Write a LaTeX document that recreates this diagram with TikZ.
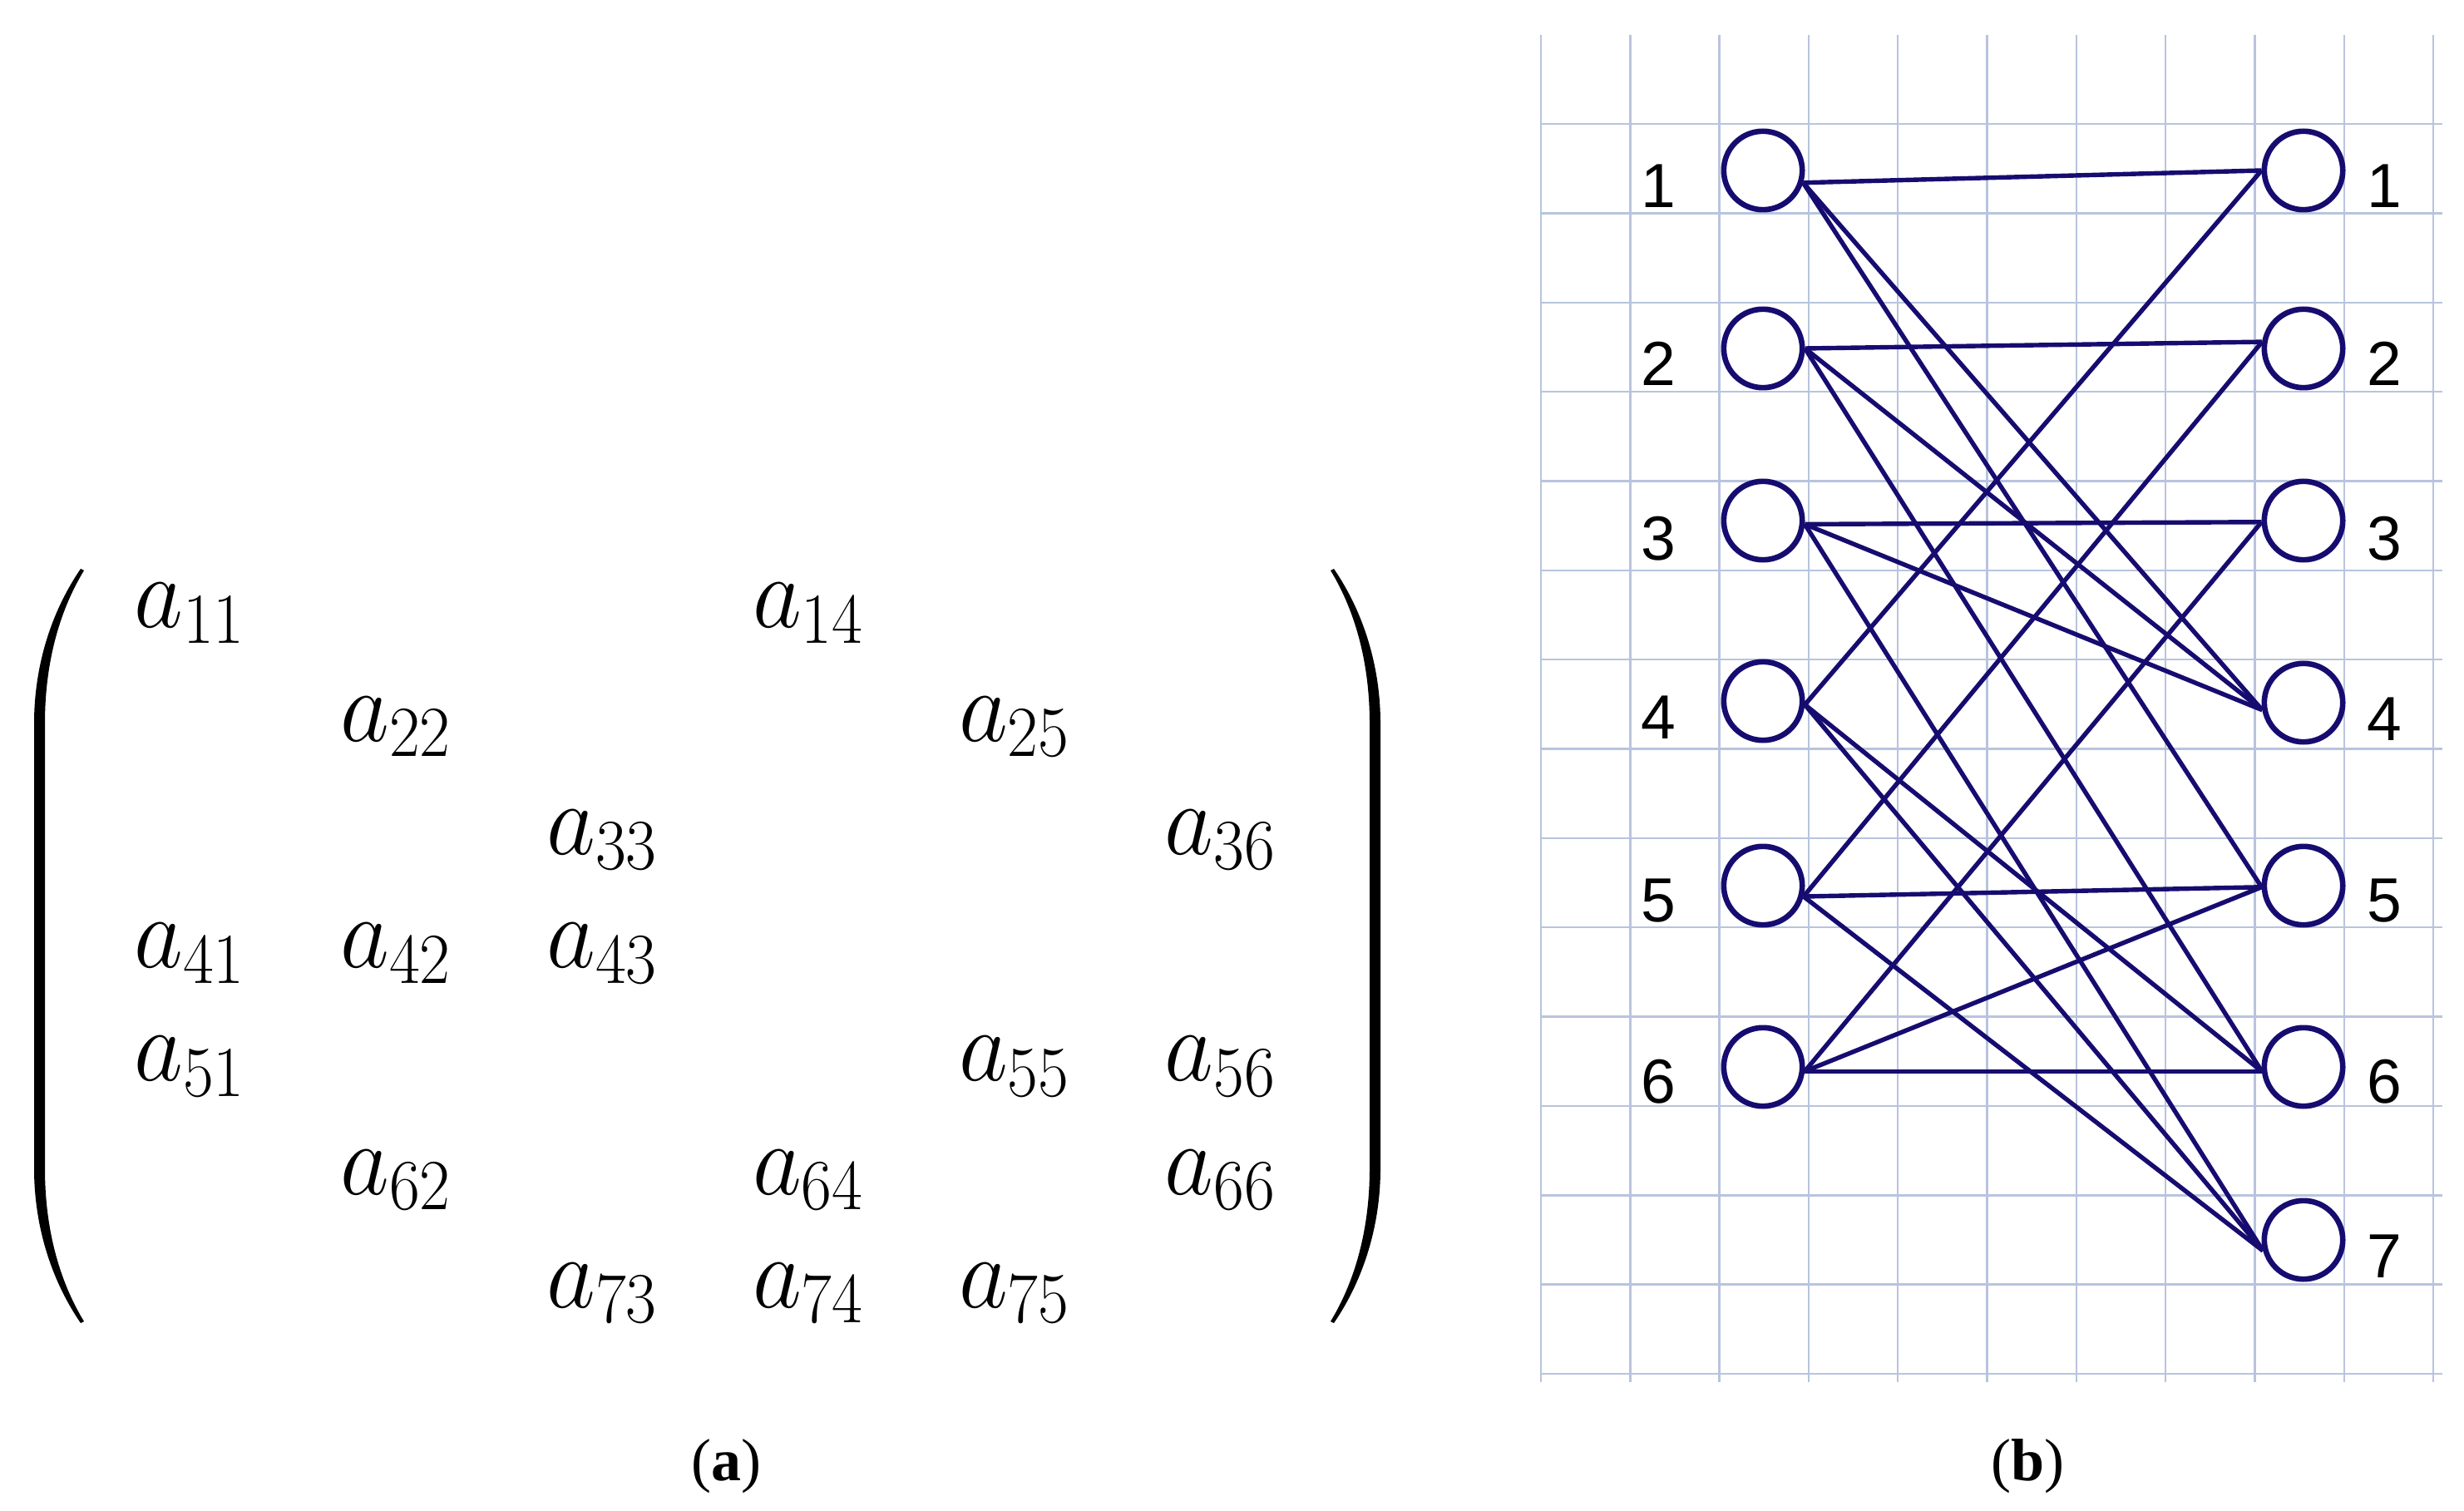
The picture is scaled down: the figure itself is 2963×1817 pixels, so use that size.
\RequirePackage{fix-cm}
\documentclass[tikz,border=0pt]{standalone}
\usepackage{fontspec}
\setmainfont{Liberation Serif}
\newfontfamily\lblfont{Liberation Sans}
\definecolor{gridc}{RGB}{184,196,222}
\definecolor{navy}{RGB}{22,12,112}
\tikzset{
  gridline/.style={draw=gridc, line width=0.6pt},
  vtx/.style={circle, draw=navy, line width=1.65pt, fill=white, minimum size=23.6pt, inner sep=0pt},
  edge/.style={draw=navy, line width=1.35pt},
  lbl/.style={anchor=base, inner sep=0pt, font=\lblfont\fontsize{18.75}{22}\selectfont},
  entry/.style={anchor=base west, inner sep=0pt, font=\fontsize{28.6}{34}\selectfont},
  subcap/.style={anchor=base, inner sep=0pt, font=\fontsize{18}{22}\selectfont},
  bigparen/.style={fill=black, draw=none}
}
\begin{document}
\begin{tikzpicture}[x=0.25pt,y=-0.25pt]
\useasboundingbox (0,0) rectangle (2963,1817);

% ---------- (a) matrix ----------
\fill[bigparen] (97,684) .. controls (62,735) and (41,800) .. (41,870) -- (41,1405)
  .. controls (41,1475) and (62,1540) .. (97,1591) -- (101,1589)
  .. controls (70,1538) and (54,1475) .. (54,1405) -- (54,870)
  .. controls (54,800) and (70,737) .. (101,686) -- cycle;
\fill[bigparen] (1604,684) .. controls (1639,735) and (1660,800) .. (1660,870) -- (1660,1405)
  .. controls (1660,1475) and (1639,1540) .. (1604,1591) -- (1600,1589)
  .. controls (1631,1538) and (1647,1475) .. (1647,1405) -- (1647,870)
  .. controls (1647,800) and (1631,737) .. (1600,686) -- cycle;

\foreach \i/\j in {1/1,1/4,2/2,2/5,3/3,3/6,4/1,4/2,4/3,5/1,5/5,5/6,6/2,6/4,6/6,7/3,7/4,7/5}
  \node[entry] (m\i\j) at ({160.6+247.9*(\j-1)},{755+136.2*(\i-1)}) {\scalebox{1}[1.08]{$a_{\i\j}$}};

\node[subcap] (capa) at (873,1780) {(\textbf{a})};

% ---------- (b) bipartite graph ----------
\foreach \k in {0,...,10}
  \draw[gridline] ({1853+107.3*\k},42) -- ({1853+107.3*\k},1662);
\foreach \k in {0,...,14}
  \draw[gridline] (1853,{149+107.36*\k}) -- (2937,{149+107.36*\k});

\foreach \n/\y in {1/205,2/419,3/626,4/843,5/1065,6/1283}
  \node[vtx] (L\n) at (2120,\y) {};
\foreach \n/\y in {1/205,2/419,3/626,4/845,5/1065,6/1283,7/1491}
  \node[vtx] (R\n) at (2770,\y) {};

\foreach \n/\y in {1/250,2/464,3/673,4/888,5/1108,6/1326}
  \node[lbl] (lab\n) at (1994,\y) {\n};
\foreach \n/\y in {1/250,2/464,3/673,4/890,5/1108,6/1326,7/1536}
  \node[lbl] (rab\n) at (2867,\y) {\n};

\draw[edge] (L1.-17) -- (R1.180);
\draw[edge] (L1.-17) -- (R4.190);
\draw[edge] (L1.-17) -- (R5.182);
\draw[edge] (L2.0) -- (R2.171);
\draw[edge] (L2.0) -- (R4.190);
\draw[edge] (L2.0) -- (R6.186);
\draw[edge] (L3.-5) -- (R3.182);
\draw[edge] (L3.-5) -- (R4.190);
\draw[edge] (L3.-5) -- (R7.195);
\draw[edge] (L4.-5) -- (R1.180);
\draw[edge] (L4.-5) -- (R6.186);
\draw[edge] (L4.-5) -- (R7.195);
\draw[edge] (L5.-15) -- (R2.171);
\draw[edge] (L5.-15) -- (R5.182);
\draw[edge] (L5.-15) -- (R7.195);
\draw[edge] (L6.-6) -- (R3.182);
\draw[edge] (L6.-6) -- (R5.182);
\draw[edge] (L6.-6) -- (R6.186);

\node[subcap] (capb) at (2438,1780) {(\textbf{b})};
\end{tikzpicture}
\end{document}
